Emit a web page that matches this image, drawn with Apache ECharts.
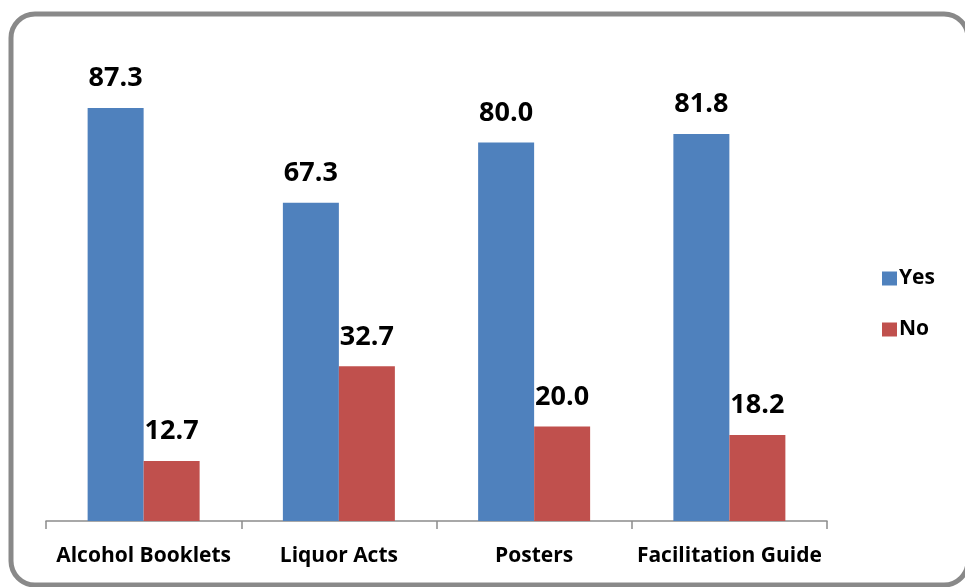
<!DOCTYPE html>
<html lang="en">
<head>
  <meta charset="UTF-8">
  <title>Yes / No bar chart</title>
  <script src="https://cdn.jsdelivr.net/npm/echarts@6/dist/echarts.min.js"></script>
</head>
<body style="margin:0">
  <div id="main" style="width: 965px; height: 587px;"></div>
  <script>
    // data
    var categories = ['Alcohol Booklets', 'Liquor Acts', 'Posters', 'Facilitation Guide'];
    var yesValues = [87.3, 67.3, 80.0, 81.8];
    var noValues = [12.7, 32.7, 20.0, 18.2];

    var myChart = echarts.init(document.getElementById('main'));

    var valueLabel = {
      show: true,
      position: 'top',
      distance: 16,
      fontFamily: 'Open Sans',
      fontWeight: 'bold',
      fontSize: 27,
      color: '#000',
      formatter: function (p) { return p.value.toFixed(1); }
    };

    var option = {
      animation: false,
      backgroundColor: '#fff',
      graphic: [{
        type: 'rect',
        shape: { x: 11, y: 14, width: 957, height: 571, r: 24 },
        style: { fill: 'none', stroke: '#898989', lineWidth: 5 }
      }],
      grid: { left: 46, right: 138, top: 48, bottom: 66 },
      legend: {
        orient: 'vertical',
        left: 877,
        top: 263,
        itemWidth: 15,
        itemHeight: 14,
        itemGap: 30,
        icon: 'rect',
        textStyle: { fontFamily: 'Open Sans', fontWeight: 'bold', fontSize: 21, color: '#000', padding: [0, 0, 0, -3] },
        data: ['Yes', 'No']
      },
      xAxis: {
        type: 'category',
        data: categories,
        axisLine: { lineStyle: { color: '#8c8c8c', width: 1.5 } },
        axisTick: { show: true, length: 8, lineStyle: { color: '#8c8c8c', width: 1.5 } },
        axisLabel: { margin: 25, fontFamily: 'Open Sans', fontWeight: 'bold', fontSize: 21, color: '#000', interval: 0 }
      },
      yAxis: {
        type: 'value',
        min: 0,
        max: 100,
        show: false
      },
      series: [
        {
          name: 'Yes',
          type: 'bar',
          data: yesValues,
          barWidth: 56,
          barGap: '0%',
          itemStyle: { color: '#4F81BD' },
          label: valueLabel
        },
        {
          name: 'No',
          type: 'bar',
          data: noValues,
          barWidth: 56,
          itemStyle: { color: '#C0504D' },
          label: valueLabel
        }
      ]
    };

    myChart.setOption(option);
  </script>
</body>
</html>
